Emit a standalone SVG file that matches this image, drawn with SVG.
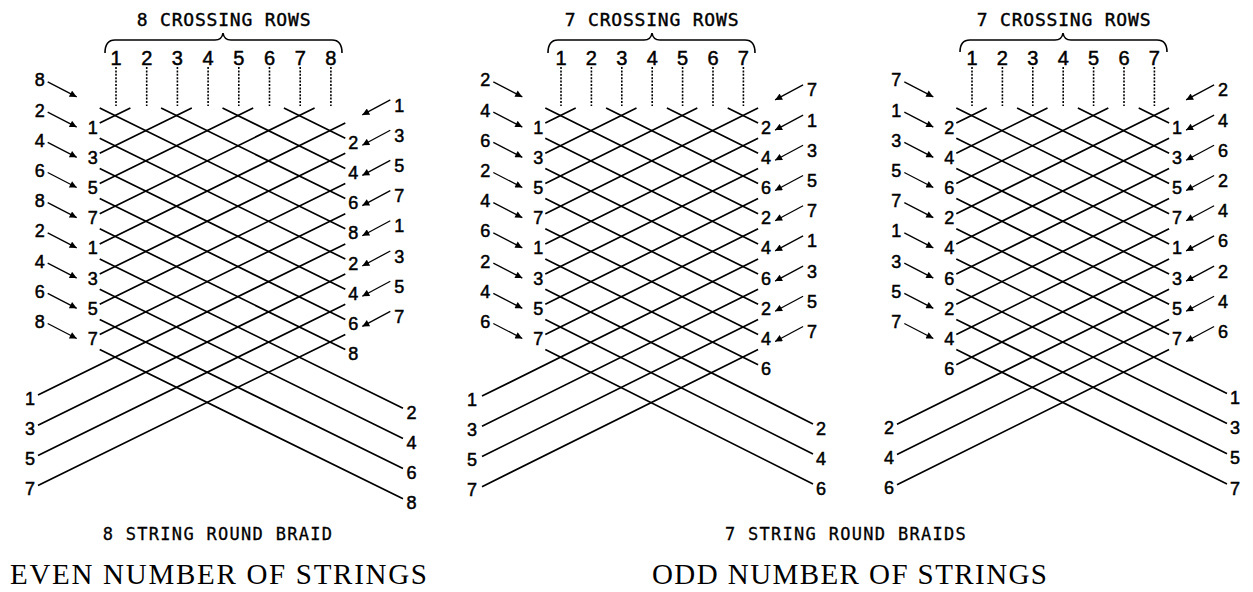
<svg xmlns="http://www.w3.org/2000/svg" width="1253" height="592" viewBox="0 0 1253 592">
<style>
.ln{stroke:#000;stroke-width:1.7;fill:none;stroke-linecap:butt}
.ar{stroke:#000;stroke-width:1.3;fill:none;marker-end:url(#ah)}
.dot{stroke:#000;stroke-width:1.6;stroke-dasharray:2 1.4}
.br{stroke:#000;stroke-width:1.6;fill:none}
.lb{font-family:"Liberation Sans",Arial,sans-serif;font-size:18px;text-anchor:middle;fill:#000;stroke:#000;stroke-width:0.5}
.cn{font-family:"Liberation Sans",Arial,sans-serif;font-size:20px;text-anchor:middle;fill:#000;stroke:#000;stroke-width:0.5}
.tt{font-family:"DejaVu Sans Mono",monospace;font-size:18px;text-anchor:middle;letter-spacing:0.8px;fill:#000;stroke:#000;stroke-width:0.4}
.cap{font-family:"DejaVu Sans Mono",monospace;font-size:17px;text-anchor:middle;letter-spacing:1.3px;fill:#000;stroke:#000;stroke-width:0.3}
.big{font-family:"Liberation Serif","Times New Roman",serif;font-size:29px;fill:#000}
</style>
<defs>
<marker id="ah" viewBox="0 0 10 10" refX="10" refY="5" markerWidth="8" markerHeight="7" markerUnits="userSpaceOnUse" orient="auto"><path d="M0,0L10,5L0,10z" fill="#000"/></marker>
</defs>
<rect width="1253" height="592" fill="#fff"/>

<!-- PANEL 1 -->
<g id="panel1">
<g id="p1-header">
<text class="tt" x="224" y="26">8 CROSSING ROWS</text>
<path class="br" d="M105,53Q105,40 115,40L215,40Q222,40 223,33Q224,40 231,40L332,40Q342,40 342,53"/>
<g class="cn"><text x="116" y="65">1</text><text x="146.7" y="65">2</text><text x="177.4" y="65">3</text><text x="208.1" y="65">4</text><text x="238.8" y="65">5</text><text x="269.5" y="65">6</text><text x="300.2" y="65">7</text><text x="330.9" y="65">8</text></g>
<path class="dot" d="M116,67V106M146.7,67V106M177.4,67V106M208.1,67V106M238.8,67V106M269.5,67V106M300.2,67V106M330.9,67V106"/>
</g>
<g id="p1-strings">
<path class="ln" d="M99.7,123.1L130.4,108M99.7,153.3L191.8,108M99.7,183.5L253.2,108M99.7,213.7L314.6,108M99.7,243.9L345.3,123.1M99.7,274.1L345.3,153.3M99.7,304.3L345.3,183.5M99.7,334.5L345.3,213.7M38,395L345.3,243.9M38,425.2L345.3,274.1M38,455.4L345.3,304.3M38,485.6L345.3,334.5"/>
<path class="ln" d="M283.9,108L345.3,138.2M222.5,108L345.3,168.4M161.1,108L345.3,198.6M99.7,108L345.3,228.8M99.7,138.2L345.3,259M99.7,168.4L345.3,289.2M99.7,198.6L345.3,319.4M99.7,228.8L345.3,349.6M99.7,259L403,408.2M99.7,289.2L403,438.4M99.7,319.4L403,468.6M99.7,349.6L403,498.8"/>
</g>
<g id="p1-arrows">
<path class="ar" d="M47.7,81.9L76.7,96.9"/><path class="ar" d="M47.7,112.1L76.7,127.1"/><path class="ar" d="M47.7,142.3L76.7,157.3"/><path class="ar" d="M47.7,172.5L76.7,187.5"/><path class="ar" d="M47.7,202.7L76.7,217.7"/><path class="ar" d="M47.7,232.9L76.7,247.9"/><path class="ar" d="M47.7,263.1L76.7,278.1"/><path class="ar" d="M47.7,293.3L76.7,308.3"/><path class="ar" d="M47.7,323.5L76.7,338.5"/>
<path class="ar" d="M390.3,99.9L362.3,114.9"/><path class="ar" d="M390.3,130.2L362.3,145.2"/><path class="ar" d="M390.3,160.4L362.3,175.4"/><path class="ar" d="M390.3,190.6L362.3,205.6"/><path class="ar" d="M390.3,220.8L362.3,235.8"/><path class="ar" d="M390.3,251L362.3,266"/><path class="ar" d="M390.3,281.2L362.3,296.2"/><path class="ar" d="M390.3,311.4L362.3,326.4"/>
</g>
<g id="p1-labels" class="lb">
<text x="39.7" y="86.4">8</text><text x="39.7" y="116.6">2</text><text x="39.7" y="146.8">4</text><text x="39.7" y="177">6</text><text x="39.7" y="207.2">8</text><text x="39.7" y="237.4">2</text><text x="39.7" y="267.6">4</text><text x="39.7" y="297.8">6</text><text x="39.7" y="328">8</text>
<text x="92.7" y="133.6">1</text><text x="92.7" y="163.8">3</text><text x="92.7" y="194">5</text><text x="92.7" y="224.2">7</text><text x="92.7" y="254.4">1</text><text x="92.7" y="284.6">3</text><text x="92.7" y="314.8">5</text><text x="92.7" y="345">7</text>
<text x="353.3" y="148.7">2</text><text x="353.3" y="178.9">4</text><text x="353.3" y="209.1">6</text><text x="353.3" y="239.3">8</text><text x="353.3" y="269.5">2</text><text x="353.3" y="299.7">4</text><text x="353.3" y="329.9">6</text><text x="353.3" y="360.1">8</text>
<text x="399.3" y="111.5">1</text><text x="399.3" y="141.7">3</text><text x="399.3" y="171.9">5</text><text x="399.3" y="202.1">7</text><text x="399.3" y="232.3">1</text><text x="399.3" y="262.5">3</text><text x="399.3" y="292.7">5</text><text x="399.3" y="322.9">7</text>
<text x="30" y="404.5">1</text><text x="30" y="434.7">3</text><text x="30" y="464.9">5</text><text x="30" y="495.1">7</text>
<text x="411.5" y="418.7">2</text><text x="411.5" y="448.9">4</text><text x="411.5" y="479.1">6</text><text x="411.5" y="509.3">8</text>
</g>
<text class="cap" x="218" y="540">8 STRING ROUND BRAID</text>
<text class="big" x="10" y="584" textLength="417" lengthAdjust="spacing">EVEN NUMBER OF STRINGS</text>
</g>

<!-- PANEL 2 -->
<g id="panel2">
<g id="p2-header">
<text class="tt" x="652" y="26">7 CROSSING ROWS</text>
<path class="br" d="M548,53Q548,40 558,40L644,40Q651,40 652,33Q653,40 660,40L745,40Q755,40 755,53"/>
<g class="cn"><text x="561" y="65">1</text><text x="591.4" y="65">2</text><text x="621.8" y="65">3</text><text x="652.2" y="65">4</text><text x="682.6" y="65">5</text><text x="713" y="65">6</text><text x="743.4" y="65">7</text></g>
<path class="dot" d="M561,67V106M591.4,67V106M621.8,67V106M652.2,67V106M682.6,67V106M713,67V106M743.4,67V106"/>
</g>
<g id="p2-strings">
<path class="ln" d="M545.3,123.1L575.7,108M545.3,153.3L636.5,108M545.3,183.5L697.3,108M545.3,213.7L758.1,108M545.3,243.9L758.1,138.2M545.3,274.1L758.1,168.4M545.3,304.3L758.1,198.6M545.3,334.5L758.1,228.8M482,396.1L758.1,259M482,426.3L758.1,289.2M482,456.5L758.1,319.4M482,486.7L758.1,349.6"/>
<path class="ln" d="M727.7,108L758.1,123.1M666.9,108L758.1,153.3M606.1,108L758.1,183.5M545.3,108L758.1,213.7M545.3,138.2L758.1,243.9M545.3,168.4L758.1,274.1M545.3,198.6L758.1,304.3M545.3,228.8L758.1,334.5M545.3,259L758.1,364.7M545.3,289.2L813,424M545.3,319.4L813,454M545.3,349.6L813,484"/>
</g>
<g id="p2-arrows">
<path class="ar" d="M493.3,81.9L522.3,96.9"/><path class="ar" d="M493.3,112.1L522.3,127.1"/><path class="ar" d="M493.3,142.3L522.3,157.3"/><path class="ar" d="M493.3,172.5L522.3,187.5"/><path class="ar" d="M493.3,202.7L522.3,217.7"/><path class="ar" d="M493.3,232.9L522.3,247.9"/><path class="ar" d="M493.3,263.1L522.3,278.1"/><path class="ar" d="M493.3,293.3L522.3,308.3"/><path class="ar" d="M493.3,323.5L522.3,338.5"/>
<path class="ar" d="M803.1,84.9L775.1,99.9"/><path class="ar" d="M803.1,115.1L775.1,130.1"/><path class="ar" d="M803.1,145.3L775.1,160.3"/><path class="ar" d="M803.1,175.5L775.1,190.5"/><path class="ar" d="M803.1,205.7L775.1,220.7"/><path class="ar" d="M803.1,235.9L775.1,250.9"/><path class="ar" d="M803.1,266.1L775.1,281.1"/><path class="ar" d="M803.1,296.3L775.1,311.3"/><path class="ar" d="M803.1,326.5L775.1,341.5"/>
</g>
<g id="p2-labels" class="lb">
<text x="485.3" y="86.4">2</text><text x="485.3" y="116.6">4</text><text x="485.3" y="146.8">6</text><text x="485.3" y="177">2</text><text x="485.3" y="207.2">4</text><text x="485.3" y="237.4">6</text><text x="485.3" y="267.6">2</text><text x="485.3" y="297.8">4</text><text x="485.3" y="328">6</text>
<text x="538.3" y="133.6">1</text><text x="538.3" y="163.8">3</text><text x="538.3" y="194">5</text><text x="538.3" y="224.2">7</text><text x="538.3" y="254.4">1</text><text x="538.3" y="284.6">3</text><text x="538.3" y="314.8">5</text><text x="538.3" y="345">7</text>
<text x="766.1" y="133.6">2</text><text x="766.1" y="163.8">4</text><text x="766.1" y="194">6</text><text x="766.1" y="224.2">2</text><text x="766.1" y="254.4">4</text><text x="766.1" y="284.6">6</text><text x="766.1" y="314.8">2</text><text x="766.1" y="345">4</text><text x="766.1" y="375.2">6</text>
<text x="812.1" y="96.4">7</text><text x="812.1" y="126.6">1</text><text x="812.1" y="156.8">3</text><text x="812.1" y="187">5</text><text x="812.1" y="217.2">7</text><text x="812.1" y="247.4">1</text><text x="812.1" y="277.6">3</text><text x="812.1" y="307.8">5</text><text x="812.1" y="338">7</text>
<text x="472" y="405.6">1</text><text x="472" y="435.8">3</text><text x="472" y="466">5</text><text x="472" y="496.2">7</text>
<text x="821" y="435">2</text><text x="821" y="465">4</text><text x="821" y="495">6</text>
</g>
<text class="cap" x="846" y="540">7 STRING ROUND BRAIDS</text>
<text class="big" x="652" y="584" textLength="395" lengthAdjust="spacing">ODD NUMBER OF STRINGS</text>
</g>

<!-- PANEL 3 -->
<g id="panel3">
<g id="p3-header">
<text class="tt" x="1064" y="26">7 CROSSING ROWS</text>
<path class="br" d="M960,52Q960,40 970,40L1055,40Q1062,40 1063,33Q1064,40 1071,40L1157,40Q1167,40 1167,52"/>
<g class="cn"><text x="972" y="65">1</text><text x="1002.4" y="65">2</text><text x="1032.8" y="65">3</text><text x="1063.2" y="65">4</text><text x="1093.6" y="65">5</text><text x="1124" y="65">6</text><text x="1154.4" y="65">7</text></g>
<path class="dot" d="M972,67V106M1002.4,67V106M1032.8,67V106M1063.2,67V106M1093.6,67V106M1124,67V106M1154.4,67V106"/>
</g>
<g id="p3-strings">
<path class="ln" d="M956.3,123.1L986.7,108M956.3,153.3L1047.5,108M956.3,183.5L1108.3,108M956.3,213.7L1169.1,108M956.3,243.9L1169.1,138.2M956.3,274.1L1169.1,168.4M956.3,304.3L1169.1,198.6M956.3,334.5L1169.1,228.8M956.3,364.7L1169.1,259M897,424.3L1169.1,289.2M897,454.5L1169.1,319.4M897,484.7L1169.1,349.6"/>
<path class="ln" d="M1138.7,108L1169.1,123.1M1077.9,108L1169.1,153.3M1017.1,108L1169.1,183.5M956.3,108L1169.1,213.7M956.3,138.2L1169.1,243.9M956.3,168.4L1169.1,274.1M956.3,198.6L1169.1,304.3M956.3,228.8L1169.1,334.5M956.3,259L1227,393.4M956.3,289.2L1227,423.6M956.3,319.4L1227,453.8M956.3,349.6L1227,484"/>
</g>
<g id="p3-arrows">
<path class="ar" d="M904.3,81.9L933.3,96.9"/><path class="ar" d="M904.3,112.1L933.3,127.1"/><path class="ar" d="M904.3,142.3L933.3,157.3"/><path class="ar" d="M904.3,172.5L933.3,187.5"/><path class="ar" d="M904.3,202.7L933.3,217.7"/><path class="ar" d="M904.3,232.9L933.3,247.9"/><path class="ar" d="M904.3,263.1L933.3,278.1"/><path class="ar" d="M904.3,293.3L933.3,308.3"/><path class="ar" d="M904.3,323.5L933.3,338.5"/>
<path class="ar" d="M1214.1,84.9L1186.1,99.9"/><path class="ar" d="M1214.1,115.1L1186.1,130.1"/><path class="ar" d="M1214.1,145.3L1186.1,160.3"/><path class="ar" d="M1214.1,175.5L1186.1,190.5"/><path class="ar" d="M1214.1,205.7L1186.1,220.7"/><path class="ar" d="M1214.1,235.9L1186.1,250.9"/><path class="ar" d="M1214.1,266.1L1186.1,281.1"/><path class="ar" d="M1214.1,296.3L1186.1,311.3"/><path class="ar" d="M1214.1,326.5L1186.1,341.5"/>
</g>
<g id="p3-labels" class="lb">
<text x="896.3" y="86.4">7</text><text x="896.3" y="116.6">1</text><text x="896.3" y="146.8">3</text><text x="896.3" y="177">5</text><text x="896.3" y="207.2">7</text><text x="896.3" y="237.4">1</text><text x="896.3" y="267.6">3</text><text x="896.3" y="297.8">5</text><text x="896.3" y="328">7</text>
<text x="949.3" y="133.6">2</text><text x="949.3" y="163.8">4</text><text x="949.3" y="194">6</text><text x="949.3" y="224.2">2</text><text x="949.3" y="254.4">4</text><text x="949.3" y="284.6">6</text><text x="949.3" y="314.8">2</text><text x="949.3" y="345">4</text><text x="949.3" y="375.2">6</text>
<text x="1177.1" y="133.6">1</text><text x="1177.1" y="163.8">3</text><text x="1177.1" y="194">5</text><text x="1177.1" y="224.2">7</text><text x="1177.1" y="254.4">1</text><text x="1177.1" y="284.6">3</text><text x="1177.1" y="314.8">5</text><text x="1177.1" y="345">7</text>
<text x="1223.1" y="96.4">2</text><text x="1223.1" y="126.6">4</text><text x="1223.1" y="156.8">6</text><text x="1223.1" y="187">2</text><text x="1223.1" y="217.2">4</text><text x="1223.1" y="247.4">6</text><text x="1223.1" y="277.6">2</text><text x="1223.1" y="307.8">4</text><text x="1223.1" y="338">6</text>
<text x="889" y="433.8">2</text><text x="889" y="464">4</text><text x="889" y="494.2">6</text>
<text x="1235" y="403.9">1</text><text x="1235" y="434.1">3</text><text x="1235" y="464.3">5</text><text x="1235" y="494.5">7</text>
</g>
</g>
</svg>
